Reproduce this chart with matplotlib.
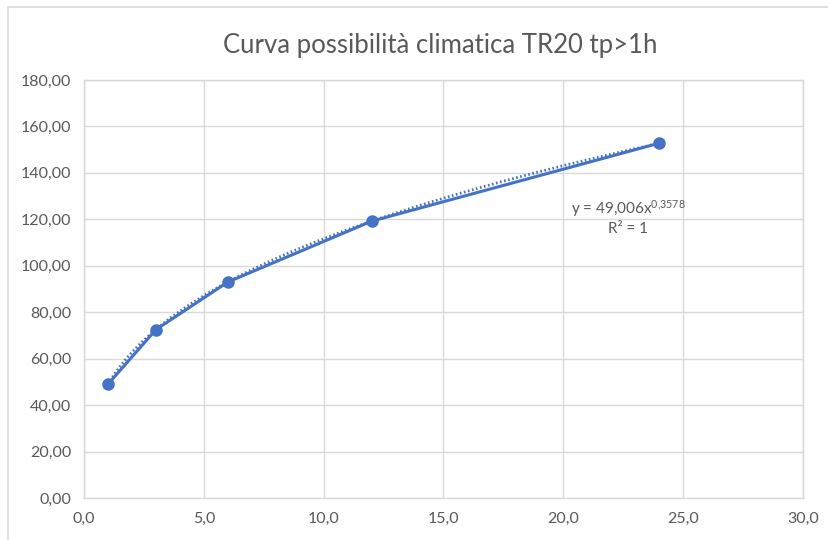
import matplotlib
matplotlib.use("Agg")
import matplotlib.pyplot as plt
from matplotlib.patches import Rectangle
import numpy as np

# DATA
durata = [1, 3, 6, 12, 24]
altezza = [49.0, 72.5, 93.0, 119.2, 152.8]
x_ticks = [0, 5, 10, 15, 20, 25, 30]
y_ticks = [0, 20, 40, 60, 80, 100, 120, 140, 160, 180]
titolo = "Curva possibilità climatica TR20 tp>1h"

blu = "#4472C4"
grigio = "#595959"
griglia = "#D9D9D9"

plt.rcParams['font.family'] = ['Lato', 'DejaVu Sans']
plt.rcParams['mathtext.default'] = 'regular'

fig = plt.figure(figsize=(8.29, 5.40), dpi=100)
ax = fig.add_axes([84 / 829, 1 - 498 / 540, (803 - 84) / 829, (498 - 80) / 540])

# bordo del grafico (stile Excel)
fig.patches.append(Rectangle((8 / 829, -0.1), 1.2, 1 - 7 / 540 + 0.1, transform=fig.transFigure,
                             fill=False, edgecolor=griglia, linewidth=1.2))

# serie
ax.plot(durata, altezza, color=blu, linewidth=2.2, marker="o", markersize=8, zorder=3)

# linea di tendenza potenza (fit sui dati)
b, loga = np.polyfit(np.log(durata), np.log(altezza), 1)
xt = np.linspace(min(durata), max(durata), 200)
ax.plot(xt, np.exp(loga) * xt ** b, color=blu, linewidth=2.0, linestyle=(0, (0.6, 0.9)), zorder=2)

ax.text(22.7, 124.8, "y = 49,006x$^{0{,}3578}$", ha="center", va="center", fontsize=11, color=grigio)
ax.text(22.7, 116.0, "R² = 1", ha="center", va="center", fontsize=11, color=grigio)

ax.set_xlim(0, 30)
ax.set_ylim(0, 180)
ax.set_xticks(x_ticks)
ax.set_yticks(y_ticks)
ax.set_xticklabels([f"{v:.1f}".replace(".", ",") for v in x_ticks])
ax.set_yticklabels([f"{v:.2f}".replace(".", ",") for v in y_ticks])
ax.tick_params(length=0, labelsize=11.5, colors=grigio, pad=10)
ax.tick_params(axis="y", pad=9)

ax.grid(color=griglia, linewidth=1.0)
ax.set_axisbelow(True)
for s in ax.spines.values():
    s.set_color(griglia)
    s.set_linewidth(1.0)

fig.text(0.5305, 1 - 45 / 540, titolo, ha="center", va="center", fontsize=18.5, color=grigio)

fig.savefig("out.png", dpi=100)
